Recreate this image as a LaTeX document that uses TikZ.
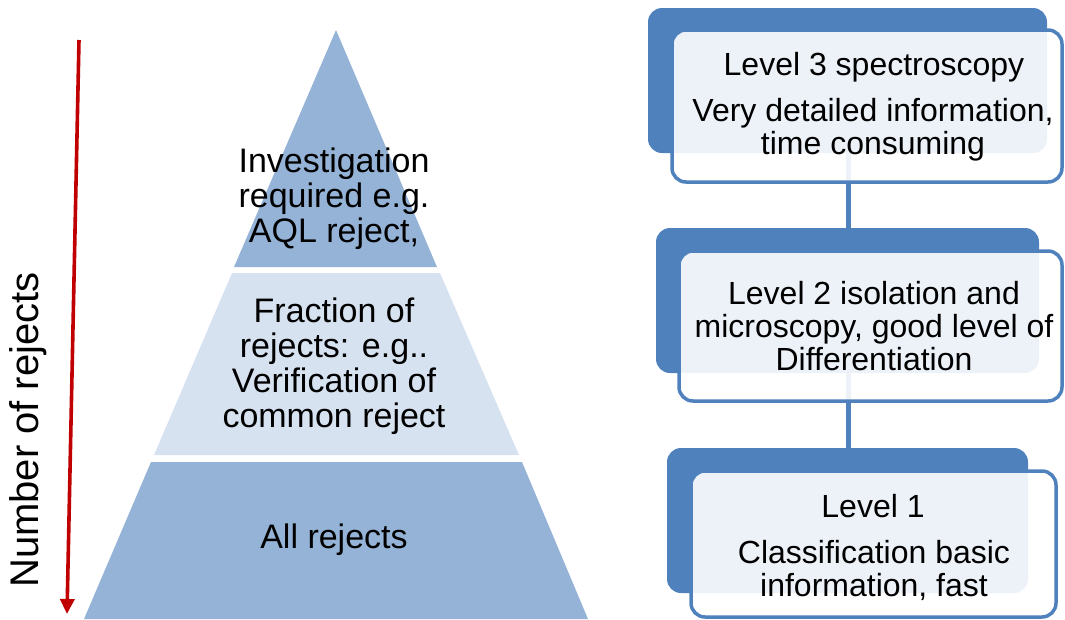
\documentclass[tikz,border=0pt]{standalone}
\usepackage{fontspec}
\setmainfont{Liberation Sans}
\usetikzlibrary{arrows.meta}
\definecolor{bandDark}{HTML}{95B3D7}
\definecolor{bandLight}{HTML}{D7E2F0}
\definecolor{boxBlue}{HTML}{4F81BD}
\definecolor{redArrow}{HTML}{C00000}
\tikzset{
  x=1pt, y=-1pt,
  darkbox/.style={fill=boxBlue, rounded corners=14pt},
  outbox/.style={draw=boxBlue, line width=3.5pt, fill=white, fill opacity=0.9, rounded corners=14pt},
  txt/.style={align=center, inner sep=0pt, font=\fontsize{32}{33}\selectfont},
  ptxt/.style={align=center, inner sep=0pt, font=\fontsize{34}{35}\selectfont},
  conn/.style={draw=boxBlue, line width=5pt},
}
\begin{document}
\begin{tikzpicture}
\useasboundingbox (0,0) rectangle (1065,619);
% pyramid
\fill[bandDark] (336,30) -- (437,267) -- (234,267) -- cycle;
\fill[bandLight] (232,273) -- (440,273) -- (519,455) -- (154,455) -- cycle;
\fill[bandDark] (151,462) -- (522,462) -- (588,619) -- (84,619) -- cycle;
\node[ptxt] (t3) at (334,199) {Investigation\\required e.g.\\AQL reject,};
\node[ptxt] (t2) at (334,366) {Fraction of\\rejects: e.g..\\Verification of\\common reject};
\node[ptxt] (t1) at (334,540) {All rejects};
% red arrow
\coordinate (ra) at (79,40);
\coordinate (rb) at (67,614);
\draw[redArrow, line width=3.6pt, -{Triangle[width=14pt,length=15pt]}] (ra) -- (rb);
\node[rotate=90, inner sep=0pt, font=\fontsize{40}{40}\selectfont] (nr) at (28,430) {Number of rejects};
% right boxes
\path[darkbox] (648,8) rectangle (1047,153) node[pos=0.5] (d3) {};
\path[darkbox] (656,228) rectangle (1039,373) node[pos=0.5] (d2) {};
\path[darkbox] (667,448) rectangle (1028,593) node[pos=0.5] (d1) {};
\coordinate (c3) at (848,153);
\coordinate (c2a) at (848,228);
\coordinate (c2b) at (848,373);
\coordinate (c1) at (848,448);
\draw[conn] (c3) -- (c2a);
\draw[conn] (c2b) -- (c1);
\path[outbox] (672,30) rectangle (1062,182);
\path[outbox] (679,251) rectangle (1062,401);
\path[outbox] (691,471) rectangle (1056,617);
\node[txt] (l3a) at (874,67) {Level 3 spectroscopy};
\node[txt] (l3b) at (873,130) {Very detailed information,\\time consuming};
\node[txt] (l2) at (874,326) {Level 2 isolation and\\microscopy, good level of\\Differentiation};
\node[txt] (l1a) at (873,506) {Level 1};
\node[txt] (l1b) at (874,570) {Classification basic\\information, fast};
\end{tikzpicture}
\end{document}
